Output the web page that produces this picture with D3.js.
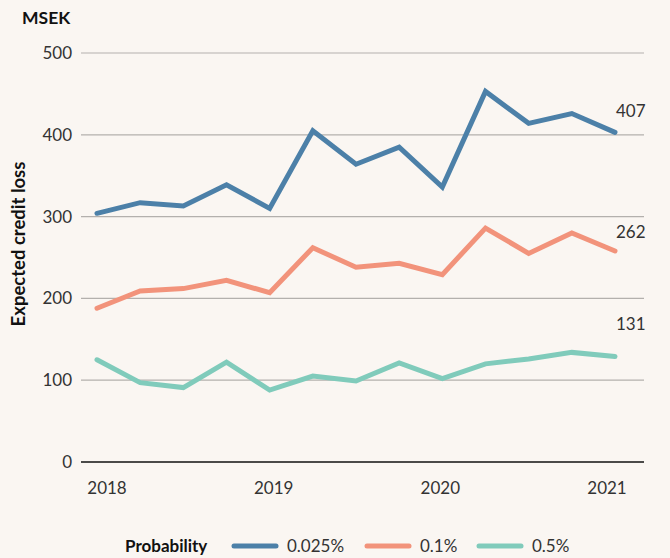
<!DOCTYPE html>
<html>
<head>
<meta charset="utf-8">
<script src="https://cdn.jsdelivr.net/npm/d3@7"></script>
<style>
  body { margin: 0; background: #faf6f2; }
  svg { display: block; font-family: Lato, "Liberation Sans", sans-serif; }
</style>
</head>
<body>
<div id="chart"></div>
<script>
// quarterly observations, Q1 2018 .. Q1 2021
const quarters = d3.range(13)
const years = [2018, 2019, 2020, 2021]
const yTicks = [0, 100, 200, 300, 400, 500]

const series = [
  { name: "0.025%", color: "#4c80a8", label: "407",
    values: [304, 317, 313, 339, 310, 405, 364, 385, 336, 453, 414, 426, 403] },
  { name: "0.1%", color: "#f2937b", label: "262",
    values: [188, 209, 212, 222, 207, 262, 238, 243, 229, 286, 255, 280, 258] },
  { name: "0.5%", color: "#80cbbb", label: "131",
    values: [125, 97, 91, 122, 88, 105, 99, 121, 102, 120, 126, 134, 129] }
]
// where the end labels sit, in data units
const labelAt = [429, 281, 169]

const width = 670, height = 558

const svg = d3.select("#chart").append("svg")
  .attr("width", width)
  .attr("height", height)

svg.append("rect")
  .attr("width", width).attr("height", height)
  .attr("fill", "#faf6f2")

const x = d3.scaleLinear().domain([0, 12]).range([97, 615])
const xYear = d3.scaleLinear().domain([2018, 2021]).range([107, 607])
const y = d3.scaleLinear().domain([0, 500]).range([462, 53])

// gridlines
svg.append("g")
  .selectAll("line")
  .data(yTicks)
  .join("line")
  .attr("x1", 81).attr("x2", 644)
  .attr("y1", d => y(d)).attr("y2", d => y(d))
  .attr("stroke", d => d === 0 ? "#111" : "#b3b0ad")
  .attr("stroke-width", d => d === 0 ? 1.5 : 1.2)

// y tick labels
svg.append("g")
  .selectAll("text")
  .data(yTicks)
  .join("text")
  .attr("x", 72)
  .attr("y", d => y(d))
  .attr("dy", "0.35em")
  .attr("text-anchor", "end")
  .attr("font-size", 17)
  .attr("fill", "#333")
  .text(d => d)

// x tick labels
svg.append("g")
  .selectAll("text")
  .data(years)
  .join("text")
  .attr("x", d => xYear(d))
  .attr("y", 494)
  .attr("text-anchor", "middle")
  .attr("font-size", 17)
  .attr("fill", "#333")
  .text(d => d)

svg.append("text")
  .attr("x", 22).attr("y", 24)
  .attr("font-size", 17.5)
  .attr("font-weight", "bold")
  .attr("fill", "#111")
  .text("MSEK")

svg.append("text")
  .attr("transform", "translate(25, 244) rotate(-90)")
  .attr("text-anchor", "middle")
  .attr("font-size", 18.5)
  .attr("font-weight", "bold")
  .attr("fill", "#111")
  .text("Expected credit loss")

const line = d3.line()
  .x((d, i) => x(quarters[i]))
  .y(d => y(d))

svg.append("g")
  .selectAll("path")
  .data(series)
  .join("path")
  .attr("d", d => line(d.values))
  .attr("fill", "none")
  .attr("stroke", d => d.color)
  .attr("stroke-width", 5)
  .attr("stroke-linejoin", "miter")
  .attr("stroke-linecap", "round")

// end labels
svg.append("g")
  .selectAll("text")
  .data(series)
  .join("text")
  .attr("x", 616)
  .attr("y", (d, i) => y(labelAt[i]))
  .attr("dy", "0.35em")
  .attr("font-size", 17)
  .attr("fill", "#333")
  .text(d => d.label)

// legend
const legend = svg.append("g").attr("transform", "translate(0, 546)")
legend.append("text")
  .attr("x", 125)
  .attr("dy", "0.35em")
  .attr("font-size", 17)
  .attr("font-weight", "bold")
  .attr("fill", "#111")
  .text("Probability")

const legendX = [232, 365, 477]
const items = legend.selectAll("g.item")
  .data(series)
  .join("g")
  .attr("class", "item")
  .attr("transform", (d, i) => `translate(${legendX[i]}, 0)`)

items.append("line")
  .attr("x1", 2).attr("x2", 44)
  .attr("stroke", d => d.color)
  .attr("stroke-width", 5)
  .attr("stroke-linecap", "round")

items.append("text")
  .attr("x", 55)
  .attr("dy", "0.35em")
  .attr("font-size", 17)
  .attr("fill", "#333")
  .text(d => d.name)
</script>
</body>
</html>
